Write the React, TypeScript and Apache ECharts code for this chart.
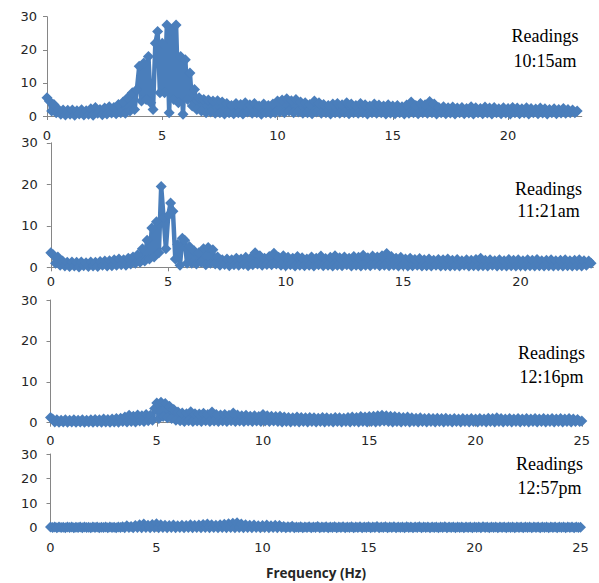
import React, { useEffect, useRef } from "react";
import * as echarts from "echarts";

// Frequency sampling step (Hz) for every trace
const STEP = 0.1;

// Amplitude readings, one value every 0.1 Hz from 0 Hz
const readings1015 = [
  5.5, 4.5, 1.5, 3.5, 1.0, 2.0, 0.5, 1.8, 0.3, 1.7,
  0.5, 1.8, 0.2, 1.6, 0.6, 1.9, 0.3, 1.6, 0.5, 2.2,
  0.2, 2.6, 0.8, 2.0, 0.4, 2.4, 0.6, 2.8, 0.9, 2.6,
  0.7, 3.5, 1.0, 4.2, 0.8, 5.5, 1.5, 7.0, 2.0, 8.0,
  15.0, 4.5, 16.0, 5.0, 18.0, 4.0, 2.0, 22.0, 25.5, 7.0,
  22.0, 7.0, 27.5, 1.0, 26.0, 5.0, 27.5, 4.0, 18.0, 0.5,
  17.0, 5.0, 13.0, 3.0, 8.0, 2.0, 5.5, 1.5, 5.0, 1.0,
  4.8, 1.2, 4.5, 0.8, 4.6, 1.0, 4.2, 0.6, 3.8, 1.0,
  3.2, 0.7, 3.8, 1.0, 3.5, 0.6, 4.0, 1.2, 3.4, 0.8,
  3.8, 1.0, 3.0, 0.5, 3.6, 1.0, 3.2, 0.8, 3.6, 1.0,
  4.5, 1.2, 4.8, 1.0, 5.2, 1.5, 4.6, 1.0, 5.0, 1.2,
  4.2, 0.8, 4.0, 1.0, 3.5, 0.7, 4.5, 1.2, 4.0, 0.8,
  3.5, 1.0, 3.2, 0.6, 3.6, 1.0, 3.8, 0.8, 3.4, 1.0,
  4.0, 0.7, 3.6, 1.0, 3.2, 0.8, 3.8, 1.0, 3.4, 0.6,
  3.0, 1.0, 3.6, 0.8, 3.3, 1.0, 3.0, 0.6, 3.4, 0.9,
  3.0, 0.7, 3.2, 1.0, 2.8, 0.6, 3.3, 0.8, 4.2, 1.0,
  3.2, 0.7, 3.8, 1.0, 3.4, 0.8, 4.4, 1.0, 3.6, 0.6,
  2.6, 1.0, 2.8, 0.7, 2.5, 0.9, 2.7, 0.6, 2.4, 1.0,
  2.6, 0.7, 2.3, 0.9, 2.8, 0.6, 2.5, 1.0, 2.3, 0.7,
  2.7, 0.9, 2.4, 0.6, 2.6, 1.0, 2.2, 0.7, 2.5, 0.9,
  2.3, 0.6, 2.6, 1.0, 2.4, 0.7, 2.2, 0.9, 2.5, 0.6,
  2.3, 1.0, 2.1, 0.7, 2.4, 0.9, 2.2, 0.6, 2.0, 1.0,
  2.2, 0.7, 2.0, 0.9, 2.3, 0.8, 2.0, 1.0, 1.8, 1.0,
  1.5,
];

const readings1121 = [
  3.5, 3.0, 1.0, 2.5, 0.5, 1.5, 0.3, 1.2, 0.2, 1.3,
  0.3, 1.2, 0.1, 1.3, 0.4, 1.1, 0.2, 1.3, 0.3, 1.2,
  0.2, 1.4, 0.5, 1.5, 0.3, 1.6, 0.4, 1.8, 0.5, 2.0,
  0.6, 1.8, 0.5, 2.2, 0.8, 2.5, 1.0, 3.0, 1.2, 4.5,
  1.5, 6.5, 2.0, 9.5, 2.5, 11.0, 3.5, 19.5, 12.0, 4.5,
  12.5, 15.5, 13.5, 2.0, 5.5, 0.5, 7.0, 6.5, 1.0, 5.0,
  1.0, 4.0, 0.8, 3.5, 1.2, 4.5, 0.6, 4.8, 1.0, 4.2,
  0.8, 2.5, 0.5, 1.8, 0.7, 2.0, 0.4, 1.8, 0.6, 2.2,
  0.5, 2.0, 0.7, 2.4, 0.4, 2.2, 0.6, 3.5, 0.8, 2.8,
  0.5, 2.2, 0.7, 2.6, 0.6, 3.4, 0.8, 2.4, 0.5, 2.8,
  0.4, 2.4, 0.6, 2.2, 0.3, 2.6, 0.5, 2.3, 0.4, 2.0,
  0.5, 2.5, 0.3, 2.2, 0.6, 2.7, 0.4, 2.1, 0.5, 2.4,
  0.3, 2.8, 0.5, 2.3, 0.4, 2.5, 0.6, 2.2, 0.3, 2.6,
  0.5, 2.4, 0.3, 2.9, 0.5, 2.3, 0.4, 2.7, 0.6, 2.5,
  0.4, 2.8, 0.5, 3.3, 0.4, 2.6, 0.5, 2.2, 0.3, 2.4,
  0.5, 2.0, 0.3, 2.2, 0.4, 1.9, 0.5, 2.1, 0.3, 1.8,
  0.4, 2.0, 0.3, 1.7, 0.5, 1.9, 0.3, 1.8, 0.4, 2.0,
  0.3, 1.7, 0.4, 1.9, 0.3, 1.6, 0.5, 1.8, 0.3, 1.7,
  0.4, 1.9, 0.3, 2.2, 0.4, 1.7, 0.3, 1.8, 0.5, 1.6,
  0.3, 1.8, 0.4, 1.6, 0.3, 1.9, 0.4, 1.7, 0.3, 1.8,
  0.4, 1.6, 0.3, 1.8, 0.4, 1.7, 0.3, 1.9, 0.4, 1.6,
  0.3, 1.7, 0.4, 1.8, 0.3, 1.6, 0.4, 1.7, 0.3, 1.8,
  0.4, 1.6, 0.3, 1.7, 0.4, 1.8, 0.3, 1.6, 0.5, 1.5,
  1.0,
];

const readings1216 = [
  1.3, 0.9, 0.2, 0.7, 0.1, 0.6, 0.2, 0.7, 0.1, 0.6,
  0.2, 0.7, 0.1, 0.6, 0.2, 0.7, 0.1, 0.6, 0.2, 0.7,
  0.1, 0.8, 0.2, 0.7, 0.1, 0.9, 0.2, 0.8, 0.1, 0.9,
  0.2, 1.0, 0.1, 1.1, 0.3, 1.4, 0.2, 1.8, 0.3, 1.6,
  0.2, 1.9, 0.4, 1.7, 0.3, 2.0, 0.5, 1.8, 0.6, 3.5,
  4.8, 1.0, 5.0, 1.5, 4.7, 1.2, 4.0, 1.0, 3.2, 0.6,
  2.6, 0.5, 2.4, 0.3, 2.2, 0.5, 2.7, 0.3, 2.2, 0.4,
  2.1, 0.3, 2.3, 0.5, 2.0, 0.3, 2.6, 0.4, 2.0, 0.3,
  1.9, 0.4, 2.0, 0.3, 1.8, 0.5, 2.4, 0.3, 1.9, 0.4,
  1.7, 0.3, 1.8, 0.4, 1.6, 0.3, 1.7, 0.4, 1.5, 0.3,
  2.0, 0.4, 1.7, 0.3, 1.6, 0.4, 1.5, 0.3, 1.6, 0.2,
  1.4, 0.3, 1.3, 0.2, 1.2, 0.3, 1.4, 0.2, 1.3, 0.3,
  1.2, 0.2, 1.3, 0.3, 1.2, 0.2, 1.1, 0.3, 1.3, 0.2,
  1.2, 0.3, 1.1, 0.2, 1.3, 0.3, 1.2, 0.2, 1.1, 0.3,
  1.3, 0.2, 1.4, 0.3, 1.3, 0.2, 1.5, 0.3, 1.4, 0.2,
  1.5, 0.3, 1.6, 0.2, 1.7, 0.3, 1.8, 0.4, 1.7, 0.3,
  1.6, 0.2, 1.5, 0.3, 1.4, 0.2, 1.3, 0.3, 1.4, 0.2,
  1.2, 0.3, 1.1, 0.2, 1.2, 0.3, 1.0, 0.2, 1.1, 0.3,
  1.0, 0.2, 1.1, 0.3, 1.0, 0.2, 1.1, 0.3, 0.9, 0.2,
  1.0, 0.3, 0.9, 0.2, 1.0, 0.3, 0.9, 0.2, 1.0, 0.3,
  0.9, 0.2, 1.0, 0.3, 0.9, 0.2, 1.1, 0.3, 1.0, 0.2,
  1.2, 0.3, 1.0, 0.2, 0.9, 0.3, 1.0, 0.2, 0.9, 0.3,
  1.0, 0.2, 0.9, 0.3, 1.0, 0.2, 0.9, 0.3, 1.0, 0.2,
  0.9, 0.3, 1.0, 0.2, 0.9, 0.3, 1.0, 0.2, 0.9, 0.3,
  1.0, 0.2, 0.9, 0.3, 1.0, 0.2, 0.9, 0.3, 0.8, 0.3,
  0.4,
];

const readings1257 = [
  0.3, 0.1, 0.3, 0.0, 0.3, 0.1, 0.2, 0.0, 0.3, 0.1,
  0.3, 0.0, 0.2, 0.1, 0.3, 0.0, 0.3, 0.1, 0.2, 0.0,
  0.3, 0.1, 0.3, 0.0, 0.2, 0.1, 0.3, 0.0, 0.3, 0.1,
  0.2, 0.0, 0.3, 0.1, 0.4, 0.0, 0.8, 0.1, 0.5, 0.0,
  0.9, 0.1, 1.2, 0.0, 1.5, 0.1, 1.0, 0.0, 1.3, 0.1,
  1.6, 0.0, 1.2, 0.1, 1.0, 0.0, 0.9, 0.1, 1.1, 0.0,
  0.8, 0.1, 1.0, 0.0, 0.9, 0.1, 1.2, 0.0, 1.0, 0.1,
  1.1, 0.0, 1.3, 0.1, 1.5, 0.0, 1.2, 0.1, 1.0, 0.0,
  1.2, 0.1, 1.4, 0.0, 1.6, 0.1, 1.8, 0.0, 2.0, 0.1,
  1.5, 0.0, 1.2, 0.1, 1.0, 0.0, 1.1, 0.1, 0.8, 0.0,
  0.9, 0.1, 1.1, 0.0, 0.8, 0.1, 1.0, 0.0, 0.9, 0.1,
  0.5, 0.0, 0.4, 0.1, 0.6, 0.0, 0.3, 0.1, 0.4, 0.0,
  0.3, 0.1, 0.4, 0.0, 0.3, 0.1, 0.5, 0.0, 0.3, 0.1,
  0.4, 0.0, 0.3, 0.1, 0.4, 0.0, 0.3, 0.1, 0.4, 0.0,
  0.3, 0.1, 0.4, 0.0, 0.3, 0.1, 0.4, 0.0, 0.3, 0.1,
  0.4, 0.0, 0.3, 0.1, 0.5, 0.0, 0.3, 0.1, 0.4, 0.0,
  0.3, 0.1, 0.4, 0.0, 0.3, 0.1, 0.3, 0.0, 0.4, 0.1,
  0.3, 0.0, 0.3, 0.1, 0.4, 0.0, 0.3, 0.1, 0.3, 0.0,
  0.3, 0.1, 0.3, 0.0, 0.3, 0.1, 0.4, 0.0, 0.3, 0.1,
  0.3, 0.0, 0.3, 0.1, 0.3, 0.0, 0.3, 0.1, 0.3, 0.0,
  0.3, 0.1, 0.3, 0.0, 0.4, 0.1, 0.3, 0.0, 0.3, 0.1,
  0.3, 0.0, 0.3, 0.1, 0.3, 0.0, 0.3, 0.1, 0.3, 0.0,
  0.3, 0.1, 0.3, 0.0, 0.3, 0.1, 0.3, 0.0, 0.3, 0.1,
  0.3, 0.0, 0.3, 0.1, 0.3, 0.0, 0.3, 0.1, 0.3, 0.0,
  0.3, 0.1, 0.3, 0.0, 0.3, 0.1, 0.3, 0.0, 0.3, 0.1,
  0.2,
];

const panelTitles = [
  ["Readings", "10:15am"],
  ["Readings", "11:21am"],
  ["Readings", "12:16pm"],
  ["Readings", "12:57pm"],
];
const xTicksShort = [0, 5, 10, 15, 20];
const xTicksLong = [0, 5, 10, 15, 20, 25];
const yMax = 30;
const yInterval = 10;
const xAxisTitle = "Frequency (Hz)";

const BLUE = "#4a7ebb";
const AXIS = "#868686";
const TICK_FONT = "DejaVu Sans";

const toPairs = (vals: number[]) =>
  vals.map((v, i) => [Math.round(i * STEP * 10) / 10, v]);

const layouts = [
  { data: readings1015, left: 47, top: 16.7, width: 534.8, height: 99.3, xMax: 23.2, ticks: xTicksShort, xm: 13, ym: 10, tx: 545, ty: [35.6, 60.6] },
  { data: readings1121, left: 50.8, top: 142.8, width: 542.6, height: 124.5, xMax: 23.1, ticks: xTicksShort, xm: 8, ym: 13, tx: 548.5, ty: [189, 211] },
  { data: readings1216, left: 50.5, top: 300, width: 531.3, height: 122.7, xMax: 25, ticks: xTicksLong, xm: 11, ym: 13, tx: 551.5, ty: [353, 377] },
  { data: readings1257, left: 50.5, top: 454, width: 530, height: 73.7, xMax: 25, ticks: xTicksLong, xm: 13, ym: 13, tx: 549.5, ty: [464, 488.3] },
];

export default function App() {
  const ref = useRef<HTMLDivElement>(null);
  useEffect(() => {
    if (!ref.current) return;
    const chart = echarts.init(ref.current, null, { renderer: "svg" });
    const grids = layouts.map((l) => ({
      left: l.left,
      top: l.top,
      width: l.width,
      height: l.height,
      outerBoundsMode: "none",
      containLabel: false,
    }));
    const xAxes = layouts.map((l, i) => ({
      type: "value",
      gridIndex: i,
      min: 0,
      max: l.xMax,
      axisLine: { show: true, onZero: false, lineStyle: { color: AXIS, width: 1 } },
      axisTick: { show: true, inside: false, length: 4, customValues: l.ticks, lineStyle: { color: AXIS } },
      axisLabel: {
        show: true,
        customValues: l.ticks,
        margin: l.xm,
        fontFamily: TICK_FONT,
        fontSize: 13,
        color: "#262626",
      },
      splitLine: { show: false },
    }));
    const yAxes = layouts.map((l, i) => ({
      type: "value",
      gridIndex: i,
      min: 0,
      max: yMax,
      interval: yInterval,
      axisLine: { show: true, lineStyle: { color: AXIS, width: 1 } },
      axisTick: { show: true, inside: false, length: 4, lineStyle: { color: AXIS } },
      axisLabel: { margin: l.ym, fontFamily: TICK_FONT, fontSize: 13, color: "#262626" },
      splitLine: { show: false },
    }));
    const series = layouts.map((l, i) => ({
      type: "line",
      xAxisIndex: i,
      yAxisIndex: i,
      data: toPairs(l.data),
      symbol: "diamond",
      symbolSize: 11,
      showAllSymbol: true,
      clip: false,
      silent: true,
      lineStyle: { color: BLUE, width: 4.5, join: "round" },
      itemStyle: { color: BLUE, borderWidth: 0 },
      z: 3,
    }));
    const graphics: any[] = [];
    layouts.forEach((l, i) => {
      panelTitles[i].forEach((t, j) => {
        graphics.push({
          type: "text",
          x: l.tx,
          y: l.ty[j],
          style: {
            text: t,
            fontFamily: "Liberation Serif",
            fontSize: 18,
            fill: "#000",
            textAlign: "center",
            textVerticalAlign: "middle",
          },
        });
      });
    });
    graphics.push({
      type: "text",
      x: 316,
      y: 573,
      style: {
        text: xAxisTitle,
        fontFamily: "Open Sans",
        fontWeight: "bold",
        fontSize: 13.5,
        fill: "#262626",
        textAlign: "center",
        textVerticalAlign: "middle",
      },
    });
    chart.setOption({
      animation: false,
      backgroundColor: "#ffffff",
      grid: grids,
      xAxis: xAxes,
      yAxis: yAxes,
      series,
      graphic: graphics,
    });
    return () => chart.dispose();
  }, []);
  return (
    <div
      ref={ref}
      style={{ position: "absolute", left: 0, top: 0, width: 599, height: 583 }}
    />
  );
}
